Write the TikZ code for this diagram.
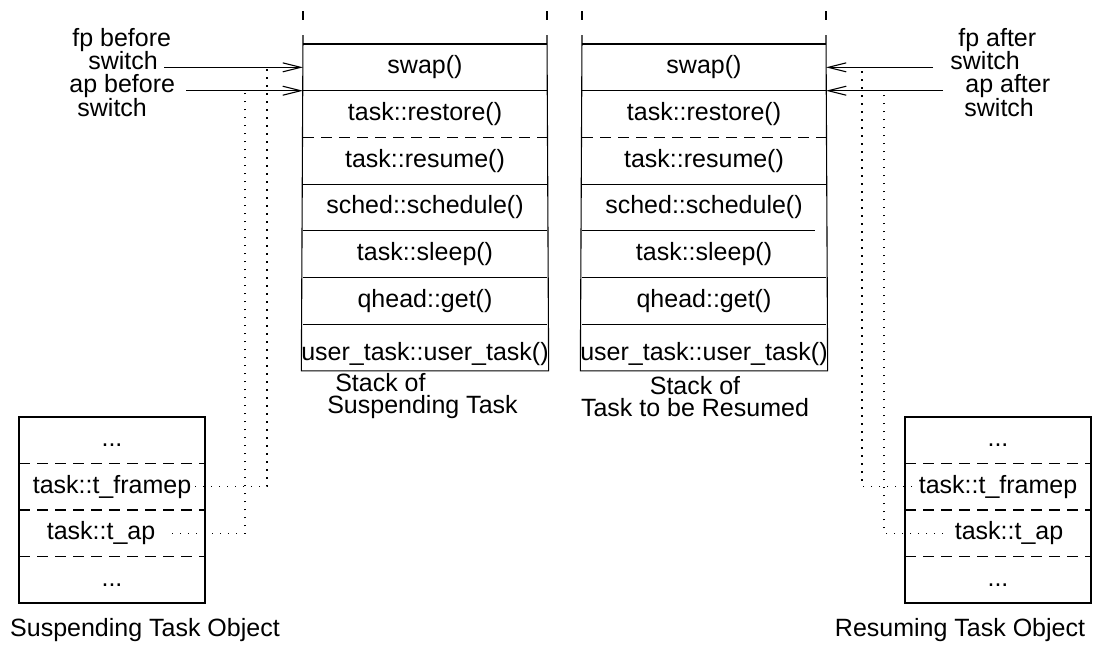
\documentclass[tikz,border=0pt]{standalone}
\usepackage{fontspec}
\setmainfont{Liberation Sans}
\usetikzlibrary{arrows.meta,positioning,calc}

\begin{document}
\begin{tikzpicture}[x=0.5pt, y=-0.5pt,
    % ---------- styles ----------
    every node/.style={font=\fontsize{12.5}{12.5}\selectfont},
    frameslot/.style={minimum width=122pt, minimum height=23.35pt, inner sep=0pt,
      outer sep=0pt, text height=9pt, text depth=2.6pt},
    objslot/.style={minimum width=93pt, minimum height=23.25pt, inner sep=0pt,
      outer sep=0pt, text height=9pt, text depth=2.6pt},
    txt/.style={inner sep=0pt, anchor=west},
    captxt/.style={inner sep=0pt, font=\fontsize{12.5}{11}\selectfont},
    wallline/.style={line width=0.55pt},
    sepline/.style={line width=0.55pt, dash pattern=on 5.5pt off 3.5pt},
    ptr/.style={-{Straight Barb[length=9pt,width=4.5pt]}, line width=0.55pt},
    dotlink/.style={line width=0.7pt, dash pattern=on 0.7pt off 3.3pt}
]

\useasboundingbox (0,0) rectangle (1110,650);

% ====== Both stacks ======
\foreach \k/\cx in {L/425,R/704} {
  \node[frameslot] (s1\k) at (\cx,67.35) {swap()};
  \node[frameslot, below=0pt of s1\k] (s2\k) {task::restore()};
  \node[frameslot, below=0pt of s2\k] (s3\k) {task::resume()};
  \node[frameslot, below=0pt of s3\k] (s4\k) {sched::schedule()};
  \node[frameslot, below=0pt of s4\k] (s5\k) {task::sleep()};
  \node[frameslot, below=0pt of s5\k] (s6\k) {qhead::get()};
  \node[frameslot, below=0pt of s6\k] (s7\k) {\raisebox{-3.5pt}{user\_task::user\_task()}};

  % walls, top ticks
  \draw[wallline] ($(s1\k.north west)+(0,-9)$) -- (s7\k.south west)
    -- (s7\k.south east) -- ($(s1\k.north east)+(0,-9)$);
  \draw[wallline] ($(s1\k.north west)+(0,-33)$) -- ++(0,9);
  \draw[wallline] ($(s1\k.north east)+(0,-33)$) -- ++(0,9);

  % separators
  \draw[wallline] (s1\k.north west) -- (s1\k.north east);
  \foreach \i in {1,3,5,6}
    \draw[wallline] (s\i\k.south west) -- (s\i\k.south east);
  \draw[sepline] (s2\k.south west) -- (s2\k.south east);
}
\draw[wallline] (s4L.south west) -- (s4L.south east);
\draw[wallline] (s4R.south west) -- ($(s4R.south east)+(-11,0)$);

% ====== Stack captions ======
\node[captxt, align=left] (capL) at (422.5,396.5) {\hspace*{4pt}Stack of\\Suspending Task};
\node[captxt, align=center] (capR) at (695,396.5) {Stack of\\Task to be Resumed};

% ====== Task objects ======
\node[objslot] (oL1) at (112,440.25) {...};
\node[objslot, below=0pt of oL1] (oL2) {task::t\_framep};
\node[objslot, below=0pt of oL2] (oL3) {task::t\_ap\hspace*{11pt}};
\node[objslot, below=0pt of oL3] (oL4) {...};

\node[objslot] (oR1) at (998,440.25) {...};
\node[objslot, below=0pt of oR1] (oR2) {task::t\_framep};
\node[objslot, below=0pt of oR2] (oR3) {\hspace*{11pt}task::t\_ap};
\node[objslot, below=0pt of oR3] (oR4) {...};

\foreach \k in {L,R} {
  \draw[wallline] (o\k1.north west) rectangle (o\k4.south east);
  \foreach \i in {1,2,3}
    \draw[sepline] (o\k\i.south west) -- (o\k\i.south east);
}

\node[captxt] (objL) at (145,630) {Suspending Task Object};
\node[captxt] (objR) at (960,630) {Resuming Task Object};

% ====== Pointer labels ======
\node[txt] (fpBL) at (72,40)  {fp before};
\node[txt] (swL1) at (88,61)  {switch};
\node[txt] (apBL) at (69,86)  {ap before};
\node[txt] (swL2) at (77,108) {switch};

\node[txt] (fpAR) at (958,40)  {fp after};
\node[txt] (swR1) at (950,61)  {switch};
\node[txt] (apAR) at (965,86)  {ap after};
\node[txt] (swR2) at (964,108) {switch};

% ====== Arrows into the stacks ======
\draw[ptr] ($(swL1.east |- s1L.west)+(6,0)$) -- (s1L.west);
\draw[ptr] ($(apBL.east |- s2L.north west)+(11,0)$) -- (s2L.north west);
\draw[ptr] ($(swR1.west |- s1R.east)+(-17,0)$) -- (s1R.east);
\draw[ptr] ($(apAR.west |- s2R.north east)+(-22,0)$) -- (s2R.north east);

% ====== Saved pointers ======
\coordinate (fpL) at ($(s1L.west)+(-36,0)$);
\coordinate (apL) at ($(s2L.north west)+(-58,0)$);
\coordinate (fpR) at ($(s1R.east)+(36,0)$);
\coordinate (apR) at ($(s2R.north east)+(58,0)$);

\draw[dotlink] ($(oL2.east)+(-10,0)$) -| (fpL);
\draw[dotlink] ($(oL3.east)+(-33,0)$) -| (apL);
\draw[dotlink] ($(oR2.west)+(7,0)$) -| (fpR);
\draw[dotlink] ($(oR3.west)+(38,0)$) -| (apR);

\end{tikzpicture}
\end{document}
